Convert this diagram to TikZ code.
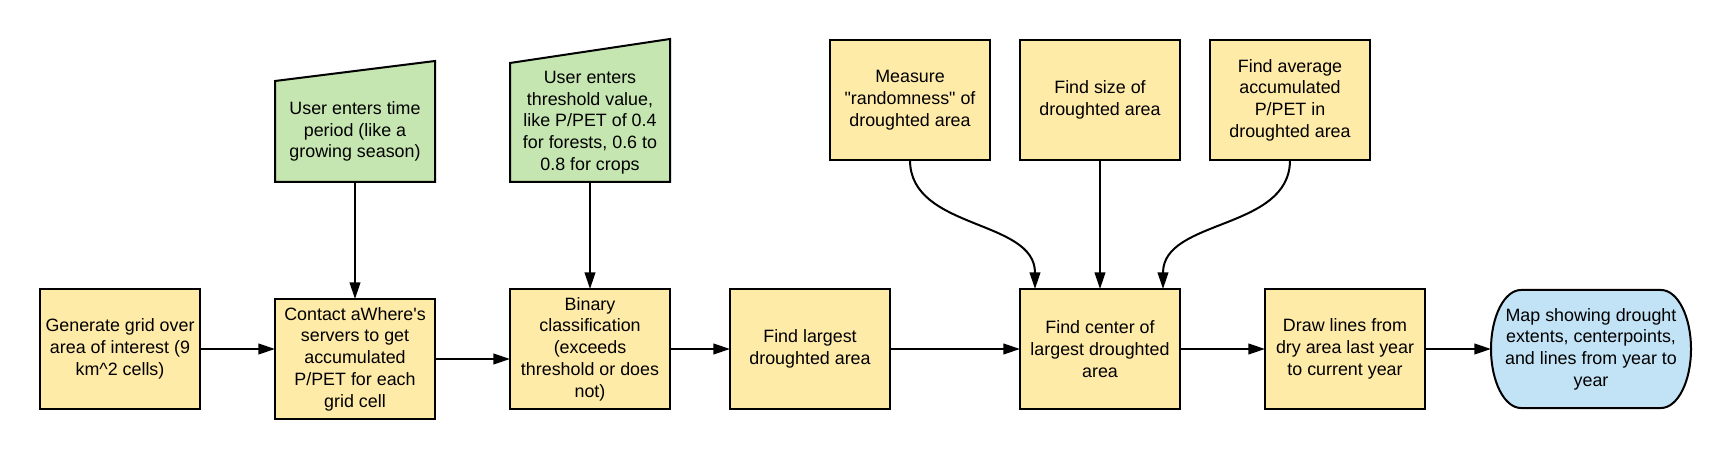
\documentclass[tikz,border=0pt]{standalone}
\usepackage{fontspec}
\setmainfont{Liberation Sans}[Ligatures=TeXOff]
\usepackage{xcolor}
\usetikzlibrary{arrows.meta, positioning, backgrounds}
\definecolor{procfill}{HTML}{FFEBA8}
\definecolor{userfill}{HTML}{C6E6B1}
\definecolor{outfill}{HTML}{C2E3F6}

\begin{document}
\begin{tikzpicture}[
    proc/.style={draw, line width=1.5pt, fill=procfill, minimum width=120pt, minimum height=90pt, outer sep=0pt, font=\fontsize{13.4}{16.3}\selectfont, align=center},
    userin/.style={minimum width=120pt, inner sep=2pt, outer sep=0pt, font=\fontsize{13.4}{16.3}\selectfont, align=center},
    inshape/.style={draw, line width=1.5pt, fill=userfill},
    outshape/.style={draw, line width=1.5pt, fill=outfill},
    edge/.style={-{Triangle[length=12.5pt,width=8pt]}, line width=1.5pt}
]
    \useasboundingbox (0,0) rectangle (1297.5pt,-344.25pt);

    % main row
    \node[proc] (gen) at (90pt,-261.75pt) {Generate grid over\\area of interest (9\\km\textasciicircum2 cells)};
    \node[proc, right=56.25pt of gen, yshift=-7.5pt] (contact) {Contact aWhere's\\servers to get\\accumulated\\P/PET for each\\grid cell};
    \node[proc, right=56.25pt of contact, yshift=7.5pt] (binary) {Binary\\classification\\(exceeds\\threshold or does\\not)};
    \node[proc, right=45pt of binary] (largest) {Find largest\\droughted area};
    \node[proc, right=97.5pt of largest] (centre) {Find center of\\largest droughted\\area};
    \node[proc, right=63.75pt of centre] (lines) {Draw lines from\\dry area last year\\to current year};
    \node[userin, minimum width=150pt, minimum height=88.5pt, right=49.5pt of lines] (map) {Map showing drought\\extents, centerpoints,\\and lines from year to\\year};

    % user inputs
    \node[userin, minimum height=75.75pt, above=87.75pt of contact] (period) {User enters time\\period (like a\\growing season)};
    \node[userin, minimum height=89.25pt, above=80.25pt of binary] (thresh) {User enters\\threshold value,\\like P/PET of 0.4\\for forests, 0.6 to\\0.8 for crops};

    % measures of the droughted area
    \node[proc, above=96.75pt of centre] (size) {Find size of\\droughted area};
    \node[proc, left=22.5pt of size] (random) {Measure\\"randomness" of\\droughted area};
    \node[proc, right=22.5pt of size] (avg) {Find average\\accumulated\\P/PET in\\droughted area};

    \begin{scope}[on background layer]
        \draw[inshape] (period.south west) -- (period.north west) -- ([yshift=15pt]period.north east) -- (period.south east) -- cycle;
        \draw[inshape] (thresh.south west) -- (thresh.north west) -- ([yshift=18pt]thresh.north east) -- (thresh.south east) -- cycle;
        \draw[outshape] ([xshift=22.5pt]map.north west) -- ([xshift=-22.5pt]map.north east)
            arc[start angle=90, end angle=-90, x radius=22.5pt, y radius=44.25pt]
            -- ([xshift=22.5pt]map.south west)
            arc[start angle=270, end angle=90, x radius=22.5pt, y radius=44.25pt] -- cycle;
    \end{scope}

    \draw[edge] (gen.east) -- (gen.east -| contact.west);
    \draw[edge] (contact.east) -- (contact.east -| binary.west);
    \draw[edge] (binary) -- (largest);
    \draw[edge] (largest) -- (centre);
    \draw[edge] (centre) -- (lines);
    \draw[edge] (lines.east) -- (lines.east -| map.west);

    \draw[edge] (period) -- (contact);
    \draw[edge] (thresh) -- (binary);

    \draw[edge] (random.south) to[out=-90, in=90] ([xshift=11.25pt]centre.north west);
    \draw[edge] (size) -- (centre);
    \draw[edge] (avg.south) to[out=-90, in=90] ([xshift=-12.75pt]centre.north east);

\end{tikzpicture}
\end{document}
